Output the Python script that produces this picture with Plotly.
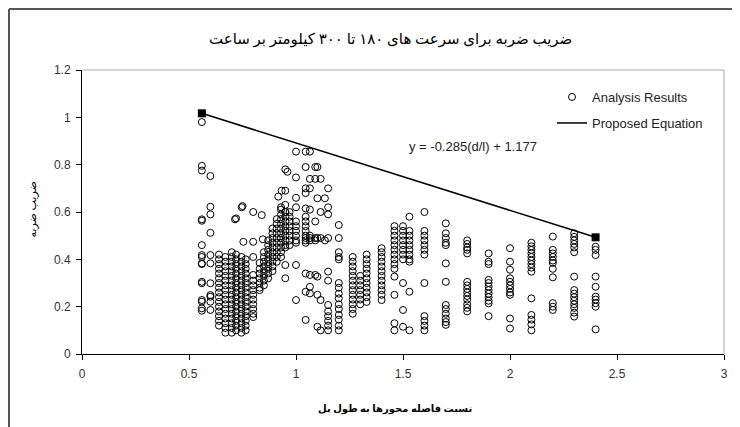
import plotly.graph_objects as go

# ---------------- data ----------------
col_x = [0.56, 0.60, 0.64, 0.67, 0.70, 0.72, 0.745, 0.765, 0.80,
         0.83, 0.85, 0.87, 0.89, 0.91, 0.93, 0.95, 0.97,
         1.00, 1.045, 1.065, 1.09, 1.10, 1.115, 1.135, 1.15, 1.20,
         1.265, 1.30, 1.33, 1.40, 1.46, 1.50, 1.53, 1.60,
         1.70, 1.80, 1.90, 2.00, 2.10, 2.20, 2.30, 2.40]
col_y = [
    [0.98, 0.795, 0.775, 0.569, 0.563, 0.46, 0.418, 0.41, 0.383, 0.38, 0.299, 0.305, 0.228, 0.221, 0.193, 0.183],
    [0.752, 0.622, 0.59, 0.512, 0.418, 0.383, 0.299, 0.249, 0.242, 0.221, 0.186],
    [0.42, 0.40, 0.38, 0.36, 0.34, 0.32, 0.30, 0.28, 0.26, 0.24, 0.22, 0.20, 0.18, 0.16, 0.14, 0.12],
    [0.41, 0.39, 0.37, 0.35, 0.33, 0.31, 0.29, 0.27, 0.25, 0.23, 0.21, 0.19, 0.17, 0.15, 0.13, 0.11, 0.09],
    [0.43, 0.41, 0.39, 0.37, 0.35, 0.33, 0.31, 0.29, 0.27, 0.25, 0.23, 0.21, 0.19, 0.17, 0.15, 0.13, 0.11, 0.09],
    [0.42, 0.40, 0.38, 0.36, 0.34, 0.32, 0.30, 0.28, 0.26, 0.24, 0.22, 0.20, 0.18, 0.16, 0.14, 0.12, 0.10],
    [0.41, 0.39, 0.37, 0.35, 0.33, 0.31, 0.29, 0.27, 0.25, 0.23, 0.21, 0.19, 0.17, 0.15, 0.13, 0.11, 0.09],
    [0.40, 0.38, 0.36, 0.34, 0.32, 0.30, 0.28, 0.26, 0.24, 0.22, 0.20, 0.18, 0.16, 0.14, 0.12, 0.10],
    [0.41, 0.334, 0.31, 0.29, 0.27, 0.25, 0.23, 0.21, 0.19, 0.17, 0.156],
    [0.385, 0.36, 0.34, 0.32, 0.30, 0.28, 0.27],
    [0.43, 0.41, 0.39, 0.37, 0.35, 0.33, 0.31, 0.29],
    [0.48, 0.46, 0.44, 0.42, 0.40, 0.38, 0.36, 0.34, 0.32],
    [0.53, 0.51, 0.49, 0.47, 0.45, 0.43, 0.41, 0.39, 0.37, 0.35],
    [0.57, 0.55, 0.53, 0.51, 0.49, 0.47, 0.45, 0.43, 0.41, 0.39],
    [0.61, 0.59, 0.57, 0.55, 0.53, 0.51, 0.49, 0.47, 0.45, 0.43, 0.41],
    [0.63, 0.60, 0.58, 0.56, 0.54, 0.52, 0.50, 0.48, 0.46, 0.45, 0.376, 0.32],
    [0.60, 0.58, 0.56, 0.54, 0.52, 0.50, 0.48, 0.46],
    [0.855, 0.746, 0.66, 0.62, 0.56, 0.54, 0.52, 0.50, 0.48, 0.47, 0.376, 0.228],
    [0.855, 0.79, 0.70, 0.68, 0.615, 0.58, 0.56, 0.54, 0.52, 0.50, 0.49, 0.48, 0.47, 0.34, 0.263, 0.144],
    [0.855, 0.74, 0.70, 0.61, 0.50, 0.49, 0.48, 0.334, 0.284, 0.256],
    [0.79, 0.74, 0.56, 0.49, 0.48, 0.334],
    [0.79, 0.658, 0.49, 0.327, 0.25, 0.115],
    [0.74, 0.60, 0.49, 0.228, 0.10],
    [0.658, 0.48],
    [0.70, 0.62, 0.59, 0.49, 0.348, 0.31, 0.207, 0.18, 0.16, 0.14, 0.12, 0.10],
    [0.545, 0.49, 0.43, 0.41, 0.40, 0.30, 0.28, 0.255, 0.235, 0.21, 0.19, 0.165, 0.145, 0.12, 0.10],
    [0.41, 0.39, 0.37, 0.35, 0.33, 0.31, 0.29, 0.27, 0.25, 0.23, 0.21, 0.19, 0.17],
    [0.33, 0.31, 0.29, 0.27, 0.25, 0.23, 0.21],
    [0.42, 0.40, 0.38, 0.36, 0.34, 0.32, 0.30, 0.28, 0.26, 0.24, 0.22],
    [0.447, 0.43, 0.41, 0.39, 0.37, 0.35, 0.33, 0.31, 0.29, 0.27, 0.25, 0.228],
    [0.54, 0.52, 0.50, 0.48, 0.46, 0.44, 0.42, 0.40, 0.38, 0.36, 0.327, 0.25, 0.13, 0.10],
    [0.54, 0.52, 0.50, 0.48, 0.46, 0.44, 0.42, 0.40, 0.30, 0.186, 0.115],
    [0.58, 0.52, 0.50, 0.48, 0.46, 0.44, 0.42, 0.40, 0.39, 0.263, 0.10],
    [0.60, 0.52, 0.50, 0.48, 0.46, 0.44, 0.42, 0.30, 0.16, 0.14, 0.12, 0.10],
    [0.552, 0.51, 0.49, 0.47, 0.46, 0.383, 0.305, 0.207, 0.19, 0.17, 0.15, 0.135, 0.123],
    [0.48, 0.465, 0.45, 0.44, 0.425, 0.305, 0.29, 0.275, 0.26, 0.245, 0.23, 0.21, 0.195, 0.18],
    [0.425, 0.39, 0.38, 0.313, 0.30, 0.285, 0.27, 0.255, 0.24, 0.225, 0.214, 0.16],
    [0.447, 0.39, 0.356, 0.32, 0.305, 0.29, 0.275, 0.26, 0.25, 0.15, 0.108],
    [0.47, 0.455, 0.44, 0.425, 0.41, 0.395, 0.38, 0.365, 0.348, 0.235, 0.165, 0.145, 0.125, 0.10],
    [0.496, 0.44, 0.425, 0.41, 0.395, 0.385, 0.36, 0.324, 0.215, 0.20, 0.186],
    [0.51, 0.495, 0.48, 0.465, 0.45, 0.43, 0.327, 0.27, 0.255, 0.24, 0.225, 0.21, 0.195, 0.175, 0.158],
    [0.453, 0.44, 0.418, 0.327, 0.284, 0.242, 0.23, 0.215, 0.20, 0.104],
]
extra_x = [0.715, 0.75, 0.80, 0.84, 0.754, 0.80, 0.845, 0.746, 0.72, 0.95, 0.96, 0.933, 0.95, 0.917, 0.93, 0.95]
extra_y = [0.569, 0.625, 0.60, 0.587, 0.474, 0.474, 0.485, 0.62, 0.573, 0.78, 0.77, 0.69, 0.69, 0.665, 0.62, 0.60]

fit_x = [0.56, 2.40]
fit_y = [1.017, 0.493]

x_ticks = [0, 0.5, 1, 1.5, 2, 2.5, 3]
x_tick_text = ["0", "0.5", "1", "1.5", "2", "2.5", "3"]
y_ticks = [0, 0.2, 0.4, 0.6, 0.8, 1.0, 1.2]
y_tick_text = ["0", "0.2", "0.4", "0.6", "0.8", "1", "1.2"]

title_text = "ضریب ضربه برای سرعت های ۱۸۰ تا ۳۰۰ کیلومتر بر ساعت"
x_title = "نسبت فاصله محورها به طول پل"
y_title = "ضریب ضربه"
eq_text = "y = -0.285(d/l) + 1.177"
series_names = ["Analysis Results", "Proposed Equation"]

# ---------------- build ----------------
pts_x, pts_y = [], []
for cx, ys in zip(col_x, col_y):
    for yv in ys:
        pts_x.append(cx)
        pts_y.append(yv)
pts_x += extra_x
pts_y += extra_y

LAT = "Liberation Sans, Arial, sans-serif"
AR = "Times New Roman, Liberation Serif, DejaVu Sans, serif"

fig = go.Figure()
fig.add_trace(go.Scatter(
    x=pts_x, y=pts_y, mode="markers", name=series_names[0],
    marker=dict(symbol="circle-open", size=7, color="black", line=dict(width=1, color="black")),
    legend="legend"))
fig.add_trace(go.Scatter(
    x=fit_x, y=fit_y, mode="lines", name=series_names[1],
    line=dict(color="black", width=1.5), legend="legend2"))
fig.add_trace(go.Scatter(
    x=fit_x, y=fit_y, mode="markers", showlegend=False,
    marker=dict(symbol="square", size=8, color="black")))

# page has an 8px body margin; figure occupies page pixels 8..740 x 8..427
W, H = 732, 419
L, R, T, B = 74, 16, 62, 73
pw, ph = W - L - R, H - T - B
PL, PB = 82, 354  # page-pixel position of plot-area left / bottom

def px(xp):
    return (xp - PL) / pw

def py(yp):
    return (PB - yp) / ph

fig.update_layout(
    width=W, height=H,
    margin=dict(l=L, r=R, t=T, b=B),
    paper_bgcolor="white", plot_bgcolor="white",
    font=dict(family=LAT, size=12, color="#222"),
    xaxis=dict(range=[0, 3], tickvals=x_ticks, ticktext=x_tick_text,
               showgrid=False, zeroline=False, showline=True, linecolor="black", linewidth=1,
               ticks="outside", ticklen=5, tickcolor="black", ticklabelstandoff=4,
               tickfont=dict(size=12, color="#333")),
    yaxis=dict(range=[0, 1.2], tickvals=y_ticks, ticktext=y_tick_text,
               showgrid=False, zeroline=False, showline=True, linecolor="black", linewidth=1,
               ticks="outside", ticklen=5, tickcolor="black", ticklabelstandoff=3,
               tickfont=dict(size=12, color="#333")),
    legend=dict(x=px(552), y=py(97), xanchor="left", yanchor="middle",
                bgcolor="rgba(0,0,0,0)", font=dict(family=LAT, size=13, color="#222")),
    legend2=dict(x=px(552), y=py(123), xanchor="left", yanchor="middle",
                 bgcolor="rgba(0,0,0,0)", font=dict(family=LAT, size=13, color="#222")),
    showlegend=True,
)

# plot-area border (top & right, light gray)
fig.add_shape(type="line", xref="paper", yref="paper", x0=0, x1=1, y0=1, y1=1,
              line=dict(color="#aaaaaa", width=1))
fig.add_shape(type="line", xref="paper", yref="paper", x0=1, x1=1, y0=0, y1=1,
              line=dict(color="#aaaaaa", width=1))
# outer chart frame (top and left edges visible)
fig.add_shape(type="line", xref="paper", yref="paper", x0=px(9), x1=px(740), y0=py(9), y1=py(9),
              line=dict(color="#555555", width=2))
fig.add_shape(type="line", xref="paper", yref="paper", x0=px(9), x1=px(9), y0=py(9), y1=py(427),
              line=dict(color="#555555", width=2))

fig.add_annotation(text=title_text, xref="paper", yref="paper", x=px(390), y=py(29),
                   showarrow=False, font=dict(family=AR, size=15, color="black"))
fig.add_annotation(text="<b>" + x_title + "</b>", xref="paper", yref="paper", x=px(395), y=py(417),
                   showarrow=False, font=dict(family=AR, size=10, color="black"))
fig.add_annotation(text=y_title, xref="paper", yref="paper", x=px(23), y=py(210),
                   textangle=-90, showarrow=False, font=dict(family=AR, size=11, color="black"))
fig.add_annotation(text=eq_text, xref="x", yref="y", x=1.827, y=0.875,
                   showarrow=False, font=dict(family=LAT, size=13, color="#222"))

fig.write_html("out.html")
